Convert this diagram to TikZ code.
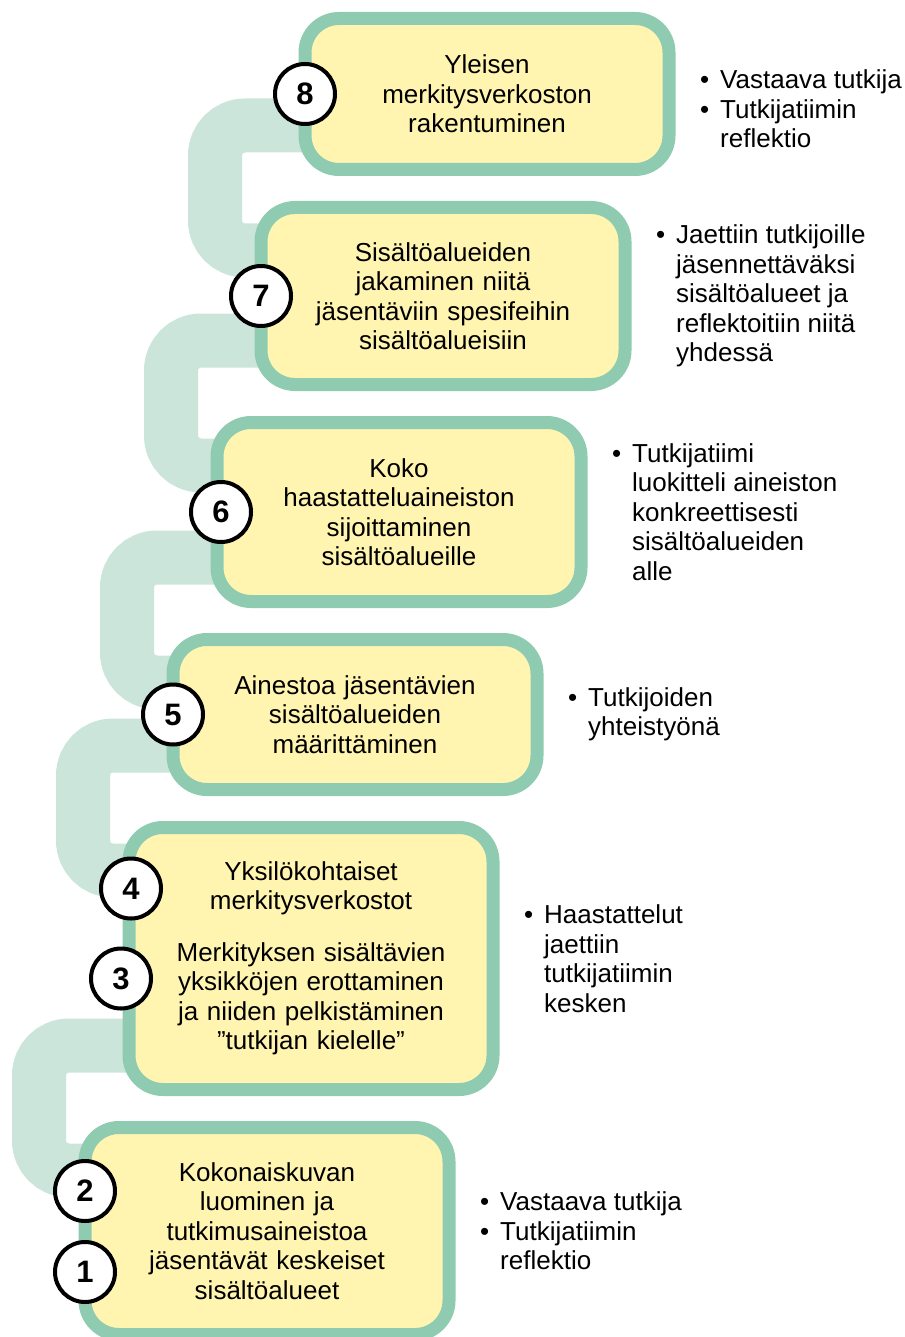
\documentclass[tikz,border=0pt]{standalone}
\usepackage{fontspec}
\setmainfont{Liberation Sans}
\usepackage{tikz}
\definecolor{rimgreen}{RGB}{142,203,177}
\definecolor{creamfill}{RGB}{255,245,176}
\definecolor{linkgreen}{RGB}{204,229,218}
\tikzset{
    phase/.style={draw=rimgreen, line width=13pt, fill=creamfill, rounded corners=34pt, minimum width=364pt, text width=340pt, inner sep=0pt, outer sep=0pt, align=center, font=\fontsize{26}{29.5}\selectfont},
    numball/.style={draw, circle, line width=4pt, fill=white, minimum size=60pt, inner sep=0pt, font=\fontsize{31}{31}\selectfont\bfseries},
    notes/.style={align=left, inner sep=0pt, font=\fontsize{26}{29.5}\selectfont},
    link/.style={draw=linkgreen, line width=54pt, rounded corners=30pt} }
\usetikzlibrary{calc, positioning, backgrounds}
\newcommand{\bul}{\makebox[20pt][l]{\textbullet}}
\newcommand{\nobul}{\makebox[20pt][l]{}}

\begin{document}
\begin{tikzpicture}[x=1pt, y=-1pt, node distance=38pt]
			\useasboundingbox (0,0) rectangle (904,1337);
			\node[phase, minimum height=151pt] (b8) at (487,94) {Yleisen\\ merkitysverkoston\\ rakentuminen};
			\node[phase, minimum height=177pt, below=of b8.south west, anchor=north west, xshift=-44pt] (b7) {Sisältöalueiden\\ jakaminen niitä\\ jäsentäviin spesifeihin\\ sisältöalueisiin};
			\node[phase, minimum height=179pt, below=of b7.south west, anchor=north west, xshift=-44pt] (b6) {Koko\\ haastatteluaineiston\\ sijoittaminen\\ sisältöalueille};
			\node[phase, minimum height=150pt, below=of b6.south west, anchor=north west, xshift=-44pt] (b5) {Ainestoa jäsentävien\\ sisältöalueiden\\ määrittäminen};
			\node[phase, minimum height=262pt, below=of b5.south west, anchor=north west, xshift=-44pt] (b4) {Yksilökohtaiset\\ merkitysverkostot\\[22pt] Merkityksen sisältävien\\ yksikköjen erottaminen\\ ja niiden pelkistäminen\\ ”tutkijan kielelle”};
			\node[phase, minimum height=207pt, below=of b4.south west, anchor=north west, xshift=-44pt] (b1) {Kokonaiskuvan\\ luominen ja\\ tutkimusaineistoa\\ jäsentävät keskeiset\\ sisältöalueet};
			% ----
			\node[numball] (n8) at (b8.west) {8};
			\node[numball] (n7) at (b7.west) {7};
			\node[numball] (n6) at ($(b6.west)+(4,0)$) {6};
			\node[numball] (n5) at (b5.west) {5};
			\node[numball] (n4) at ($(b4.west)+(2,-70)$) {4};
			\node[numball] (n3) at ($(b4.west)+(-8,20)$) {3};
			\node[numball] (n2) at ($(b1.west)+(0,-40)$) {2};
			\node[numball] (n1) at ($(b1.west)+(0,41)$) {1};
			% ----
			\node[notes, right=31pt of b8.east, yshift=-15pt] (t8) {\bul Vastaava tutkija\\ \bul Tutkijatiimin\\ \nobul reflektio};
			\node[notes, right=31pt of b7.east] (t7) {\bul Jaettiin tutkijoille\\ \nobul jäsennettäväksi\\ \nobul sisältöalueet ja\\ \nobul reflektoitiin niitä\\ \nobul yhdessä};
			\node[notes, right=31pt of b6.east] (t6) {\bul Tutkijatiimi\\ \nobul luokitteli aineiston\\ \nobul konkreettisesti\\ \nobul sisältöalueiden\\ \nobul alle};
			\node[notes, right=31pt of b5.east] (t5) {\bul Tutkijoiden\\ \nobul yhteistyönä};
			\node[notes, right=31pt of b4.east] (t4) {\bul Haastattelut\\ \nobul jaettiin\\ \nobul tutkijatiimin\\ \nobul kesken};
			\node[notes, right=31pt of b1.east] (t1) {\bul Vastaava tutkija\\ \bul Tutkijatiimin\\ \nobul reflektio};
			% ----
			\begin{scope}[on background layer]
				\draw[link] ($(b8.south west)+(10,-44)$) -- ++(-100,0) |- ($(b7.north west)+(10,43)$);
				\draw[link] ($(b7.south west)+(10,-44)$) -- ++(-100,0) |- ($(b6.north west)+(10,43)$);
				\draw[link] ($(b6.south west)+(10,-44)$) -- ++(-100,0) |- ($(b5.north west)+(10,43)$);
				\draw[link] ($(b5.south west)+(10,-44)$) -- ++(-100,0) |- ($(b4.north west)+(10,43)$);
				\draw[link] ($(b4.south west)+(10,-44)$) -- ++(-100,0) |- ($(b1.north west)+(10,43)$);
			\end{scope}
		\end{tikzpicture}
\end{document}
